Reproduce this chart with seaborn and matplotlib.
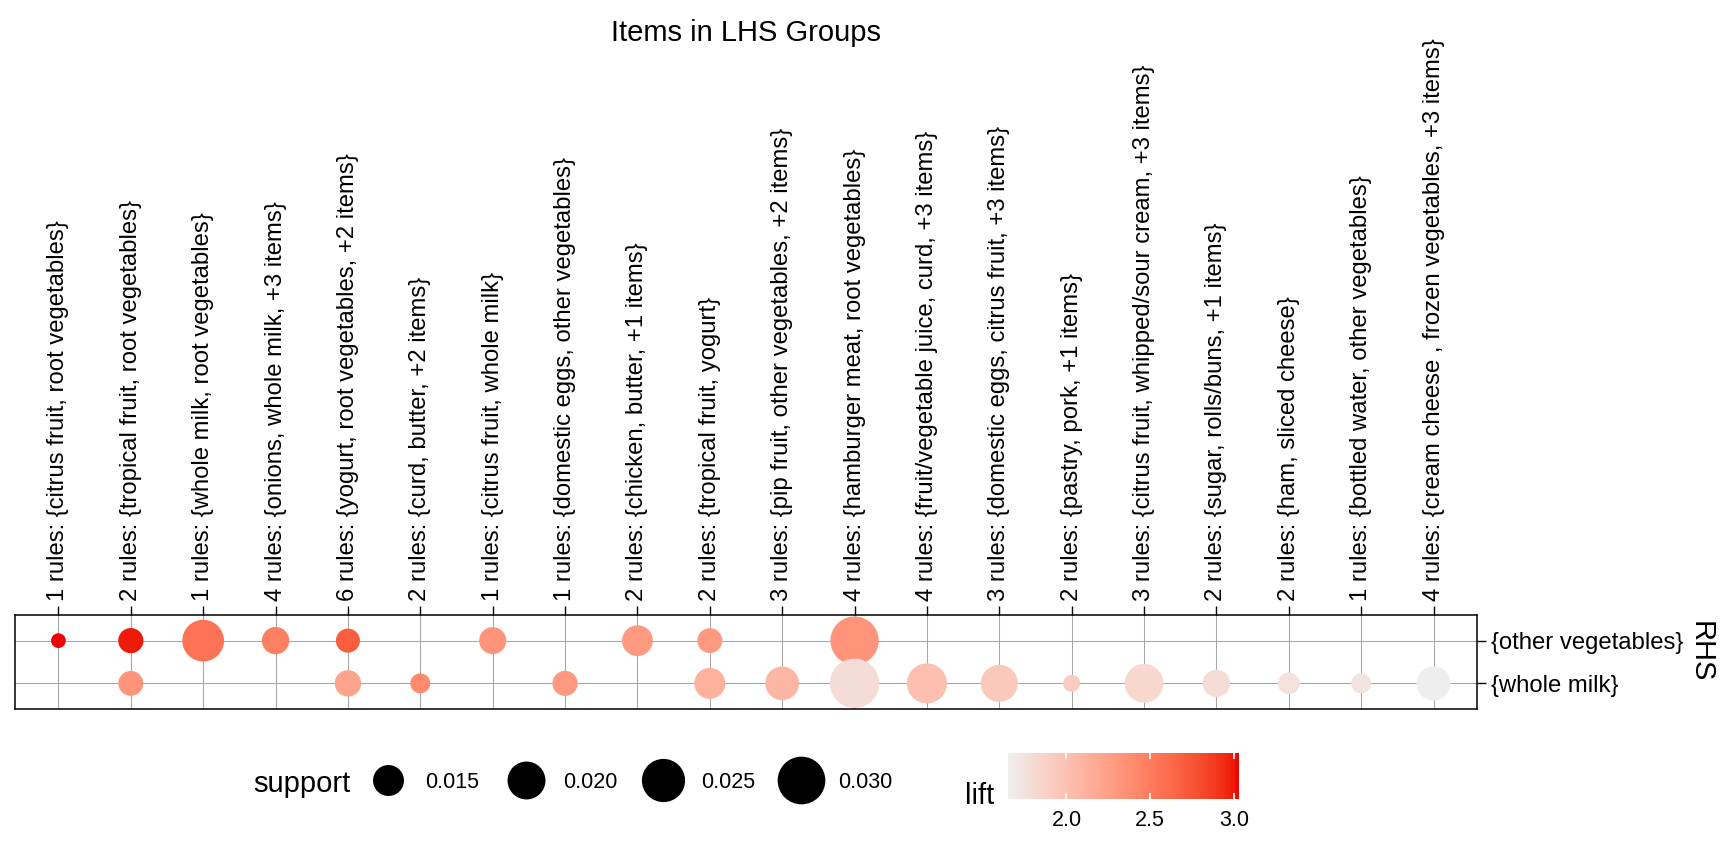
import numpy as np
import pandas as pd
import matplotlib
matplotlib.use("Agg")
import matplotlib.pyplot as plt
from matplotlib.colors import ListedColormap, Normalize, FuncNorm
from matplotlib.lines import Line2D
from matplotlib.ticker import FormatStrFormatter
import seaborn as sns

# ---------------- data ----------------
groups = [
    "1 rules: {citrus fruit, root vegetables}",
    "2 rules: {tropical fruit, root vegetables}",
    "1 rules: {whole milk, root vegetables}",
    "4 rules: {onions, whole milk, +3 items}",
    "6 rules: {yogurt, root vegetables, +2 items}",
    "2 rules: {curd, butter, +2 items}",
    "1 rules: {citrus fruit, whole milk}",
    "1 rules: {domestic eggs, other vegetables}",
    "2 rules: {chicken, butter, +1 items}",
    "2 rules: {tropical fruit, yogurt}",
    "3 rules: {pip fruit, other vegetables, +2 items}",
    "4 rules: {hamburger meat, root vegetables}",
    "4 rules: {fruit/vegetable juice, curd, +3 items}",
    "3 rules: {domestic eggs, citrus fruit, +3 items}",
    "2 rules: {pastry, pork, +1 items}",
    "3 rules: {citrus fruit, whipped/sour cream, +3 items}",
    "2 rules: {sugar, rolls/buns, +1 items}",
    "2 rules: {ham, sliced cheese}",
    "1 rules: {bottled water, other vegetables}",
    "4 rules: {cream cheese , frozen vegetables, +3 items}",
]
rhs_levels = ["{other vegetables}", "{whole milk}"]

support_other = [0.0102, 0.0122, 0.0235, 0.0131, 0.0118, None, 0.0130, None, 0.0149, 0.0121,
                 None, 0.0308, None, None, None, None, None, None, None, None]
lift_other = [3.03, 2.99, 2.56, 2.48, 2.70, None, 2.33, None, 2.30, 2.30,
              None, 2.33, None, None, None, None, None, None, None, None]
support_milk = [None, 0.0121, None, None, 0.0127, 0.0107, None, 0.0122, None, 0.0150,
                0.0168, 0.0320, 0.0219, 0.0193, 0.0103, 0.0207, 0.0131, 0.0111, 0.0107, 0.0170]
lift_milk = [None, 2.33, None, None, 2.22, 2.40, None, 2.29, None, 2.12,
             2.08, 1.79, 2.01, 1.94, 1.92, 1.83, 1.79, 1.755, 1.74, 1.651]

size_ticks = [0.015, 0.020, 0.025, 0.030]
lift_ticks = [2.0, 2.5, 3.0]

# ---------------- theme ----------------
sns.set_theme(style="white")
plt.rcParams['font.family'] = ['Liberation Sans', 'DejaVu Sans']
plt.rcParams['text.color'] = 'black'
plt.rcParams['xtick.color'] = 'black'
plt.rcParams['ytick.color'] = 'black'
plt.rcParams['axes.labelcolor'] = 'black'

rows = []
for rhs, sup, lif in ((rhs_levels[0], support_other, lift_other),
                      (rhs_levels[1], support_milk, lift_milk)):
    for g, s, l in zip(groups, sup, lif):
        if s is not None:
            rows.append(dict(group=g, rhs=rhs, support=s, lift=l))
df = pd.DataFrame(rows)
df['gx'] = pd.Categorical(df['group'], categories=groups).codes.astype(int)
df['ry'] = pd.Categorical(df['rhs'], categories=rhs_levels).codes.astype(int)

# ---------------- Lab gradient (like ggplot) ----------------
M = np.array([[0.4124, 0.3576, 0.1805], [0.2126, 0.7152, 0.0722], [0.0193, 0.1192, 0.9505]])
WHITE = np.array([0.95047, 1.0, 1.08883])
DL = 6 / 29


def _to_lin(c):
    c = np.asarray(c, float)
    return np.where(c <= 0.04045, c / 12.92, ((c + 0.055) / 1.055) ** 2.4)


def _to_srgb(c):
    c = np.clip(c, 0, 1)
    return np.where(c <= 0.0031308, 12.92 * c, 1.055 * c ** (1 / 2.4) - 0.055)


def _f(t):
    return np.where(t > DL ** 3, np.cbrt(t), t / (3 * DL * DL) + 4 / 29)


def _finv(t):
    return np.where(t > DL, t ** 3, 3 * DL * DL * (t - 4 / 29))


def rgb_to_lab(rgb):
    xyz = M @ _to_lin(rgb) / WHITE
    fx, fy, fz = _f(xyz)
    return np.array([116 * fy - 16, 500 * (fx - fy), 200 * (fy - fz)])


def lab_to_rgb(lab):
    L, a, b = lab
    fy = (L + 16) / 116
    fx = fy + a / 500
    fz = fy - b / 200
    xyz = _finv(np.array([fx, fy, fz])) * WHITE
    return np.clip(_to_srgb(np.linalg.inv(M) @ xyz), 0, 1)


lab_lo = rgb_to_lab(np.array([238, 238, 238]) / 255)
lab_hi = rgb_to_lab(np.array([238, 0, 0]) / 255)
cmap = ListedColormap([lab_to_rgb(lab_lo + t * (lab_hi - lab_lo)) for t in np.linspace(0, 1, 256)])

# ---------------- figure ----------------
W, H = 1728, 864
fig = plt.figure(figsize=(17.28, 8.64), dpi=100)
ax = fig.add_axes([15 / W, 1 - 709 / H, 1462 / W, 94 / H])

PT = 72 / 100  # points per pixel
R0, R1 = 14.7, 49.3  # diameters (px) of smallest / largest point
smin_v, smax_v = df['support'].min(), df['support'].max()


def fwd(v):
    t = np.clip((np.asarray(v, float) - smin_v) / (smax_v - smin_v), 0, None)
    return (R0 + (R1 - R0) * np.sqrt(t)) ** 2


def inv(y):
    r = np.sqrt(np.clip(np.asarray(y, float), 0, None))
    return smin_v + (smax_v - smin_v) * ((r - R0) / (R1 - R0)) ** 2


size_norm = FuncNorm((fwd, inv), vmin=smin_v, vmax=smax_v)
lift_norm = Normalize(df['lift'].min(), df['lift'].max())
s_lo, s_hi = (R0 * PT) ** 2, (R1 * PT) ** 2

sns.scatterplot(data=df, x='gx', y='ry', hue='lift', palette=cmap, hue_norm=lift_norm,
                size='support', sizes=(s_lo, s_hi), size_norm=size_norm,
                linewidth=0, legend=False, ax=ax, zorder=3)

ax.set_xlim(-0.6, len(groups) - 0.4)
ax.set_ylim(len(rhs_levels) - 0.4, -0.6)
ax.set_xticks(range(len(groups)), groups, rotation=90)
ax.set_yticks(range(len(rhs_levels)), rhs_levels)
ax.tick_params(axis='both', length=6.2, width=1.0, color='black', pad=3.6,
               labelsize=17.2, direction='out', labelcolor='black')
ax.tick_params(axis='x', top=True, bottom=False, labeltop=True, labelbottom=False)
ax.tick_params(axis='y', right=True, left=False, labelright=True, labelleft=False)
ax.grid(True, color='#a6a6a6', linewidth=0.75)
ax.set_axisbelow(True)
for sp in ax.spines.values():
    sp.set_visible(True)
    sp.set_color('black')
    sp.set_linewidth(1.1)
ax.set_xlabel('')
ax.set_ylabel('')

fig.text(746 / W, 1 - 33 / H, 'Items in LHS Groups', ha='center', va='center',
         fontsize=21, color='black')
fig.text(1701 / W, 1 - 652 / H, 'RHS', rotation=270, ha='center', va='center',
         fontsize=21, color='black')

# ---------------- support legend ----------------
handles = [Line2D([], [], marker='o', linestyle='', color='black', markeredgewidth=0,
                  markersize=float(np.sqrt(s_lo + size_norm(v) * (s_hi - s_lo))))
           for v in size_ticks]
labels = [f"{v:.3f}" for v in size_ticks]
leg = fig.legend(handles, labels, ncol=len(size_ticks), frameon=False, loc='center left',
                 bbox_to_anchor=(364.3 / W, 1 - 782 / H), fontsize=15.5, handlelength=2.2,
                 handletextpad=0.64, columnspacing=1.04, borderpad=0, borderaxespad=0)
for t in leg.get_texts():
    t.set_color('black')
fig.text(253 / W, 1 - 792 / H, 'support', ha='left', va='baseline', fontsize=21, color='black')

# ---------------- lift colorbar ----------------
cax = fig.add_axes([1008 / W, 1 - 799 / H, 231 / W, 46 / H])
sm = plt.cm.ScalarMappable(norm=lift_norm, cmap=cmap)
cb = fig.colorbar(sm, cax=cax, orientation='horizontal', ticks=lift_ticks)
cb.outline.set_visible(False)
cax.set_axisbelow(False)
cax.xaxis.set_zorder(5)
cax.xaxis.set_major_formatter(FormatStrFormatter('%.1f'))
cax.tick_params(axis='x', direction='in', color='white', width=1.2, length=4.5,
                top=True, bottom=True, labeltop=False, labelbottom=True,
                labelsize=15.5, pad=8, labelcolor='black')
fig.text(965 / W, 1 - 804 / H, 'lift', ha='left', va='baseline', fontsize=21, color='black')

fig.savefig('out.png', dpi=100)
